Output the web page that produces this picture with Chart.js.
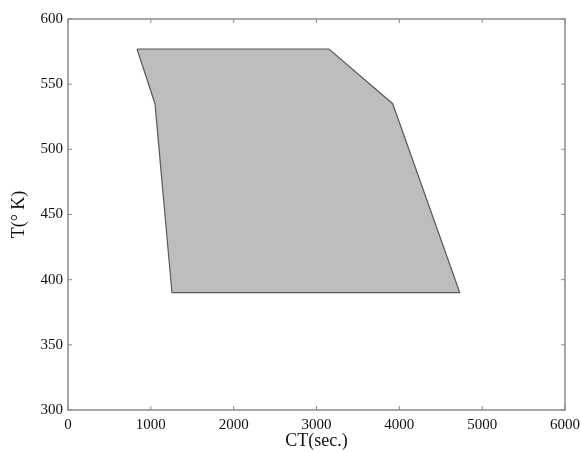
<!DOCTYPE html>
<html>
<head>
<meta charset="utf-8">
<script src="https://cdn.jsdelivr.net/npm/chart.js@4.4.1/dist/chart.umd.min.js"></script>
<style>
  html, body { margin: 0; padding: 0; background: #fff; }
  #wrap { width: 581px; height: 453px; position: relative; }
</style>
</head>
<body>
<div id="wrap"><canvas id="regionChart"></canvas></div>
<script>
// Operating region: cycle time vs. temperature (closed polygon)
const ctSec = [833, 3150, 3920, 4730, 1255, 1050, 833];
const tempK = [577, 577, 535, 390, 390, 535, 577];

const xTicks = [0, 1000, 2000, 3000, 4000, 5000, 6000];
const yTicks = [300, 350, 400, 450, 500, 550, 600];

const axisColor = '#8a8a8a';
const labelColor = '#111';
const serif = "'Liberation Serif', 'DejaVu Serif', serif";

// frame box with inward tick marks on all four sides
const frameTicks = {
  id: 'frameTicks',
  afterDraw(chart) {
    const { ctx, chartArea: a, scales } = chart;
    const len = 4;
    ctx.save();
    ctx.strokeStyle = axisColor;
    ctx.lineWidth = 1.5;
    ctx.strokeRect(a.left, a.top, a.right - a.left, a.bottom - a.top);
    ctx.lineWidth = 1;
    ctx.beginPath();
    xTicks.forEach(v => {
      const px = scales.x.getPixelForValue(v);
      ctx.moveTo(px, a.bottom); ctx.lineTo(px, a.bottom - len);
      ctx.moveTo(px, a.top); ctx.lineTo(px, a.top + len);
    });
    yTicks.forEach(v => {
      const py = scales.y.getPixelForValue(v);
      ctx.moveTo(a.left, py); ctx.lineTo(a.left + len, py);
      ctx.moveTo(a.right, py); ctx.lineTo(a.right - len, py);
    });
    ctx.stroke();
    ctx.restore();
  }
};

new Chart(document.getElementById('regionChart'), {
  type: 'scatter',
  data: {
    datasets: [{
      data: ctSec.map((x, i) => ({ x: x, y: tempK[i] })),
      showLine: true,
      fill: 'shape',
      backgroundColor: '#bdbdbd',
      borderColor: '#5a5a5a',
      borderWidth: 1.2,
      pointRadius: 0,
      tension: 0
    }]
  },
  options: {
    responsive: true,
    maintainAspectRatio: false,
    animation: false,
    layout: { padding: { top: 19, right: 16, left: 0, bottom: 0 } },
    plugins: { legend: { display: false }, tooltip: { enabled: false } },
    scales: {
      x: {
        type: 'linear',
        min: 0, max: 6000,
        afterBuildTicks: s => { s.ticks = xTicks.map(v => ({ value: v })); },
        afterFit: s => { s.height = 43; s.paddingLeft = 0; s.paddingRight = 0; },
        grid: { display: false, drawTicks: false },
        border: { display: false },
        ticks: {
          color: labelColor, padding: 6, font: { family: serif, size: 15 },
          callback: v => String(v)
        },
        title: {
          display: true, text: 'CT(sec.)', color: labelColor,
          font: { family: serif, size: 18 }, padding: { top: 0, bottom: 1 }
        }
      },
      y: {
        type: 'linear',
        min: 300, max: 600,
        afterBuildTicks: s => { s.ticks = yTicks.map(v => ({ value: v })); },
        afterFit: s => { s.width = 68; s.paddingTop = 0; s.paddingBottom = 0; },
        grid: { display: false, drawTicks: false },
        border: { display: false },
        ticks: {
          color: labelColor, padding: 5, font: { family: serif, size: 15 },
          callback: v => String(v)
        },
        title: {
          display: true, text: 'T(\u00B0 K)', color: labelColor,
          font: { family: serif, size: 18 }, padding: { top: 8, bottom: 0 }
        }
      }
    }
  },
  plugins: [frameTicks]
});
</script>
</body>
</html>
